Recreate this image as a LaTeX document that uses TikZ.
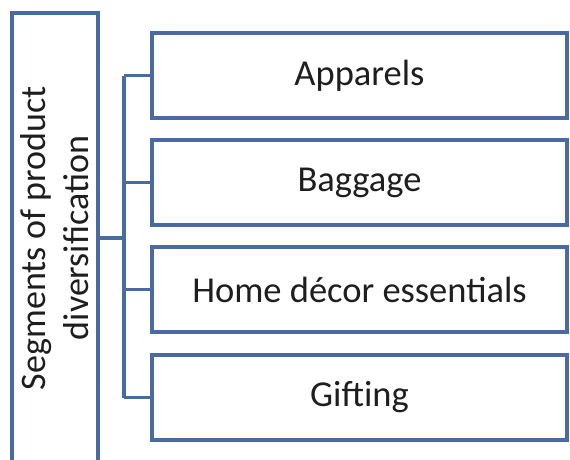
\documentclass[tikz,border=0pt]{standalone}
\usepackage{fontspec}
\setmainfont{Carlito}
\definecolor{bord}{HTML}{4A6AA2}
\definecolor{txt}{HTML}{1E1E1E}
\begin{document}
\begin{tikzpicture}[x=1pt,y=-1pt,
  box/.style={draw=bord, line width=3.6pt, fill=white, rectangle, inner sep=0pt,
    minimum width=415pt, minimum height=85pt, text=txt,
    font=\fontsize{36.5}{43}\selectfont},
  conn/.style={draw=bord, line width=3.6pt}]
\clip (0,0) rectangle (570,460);
\fill[white] (0,0) rectangle (570,460);
\node[draw=bord, line width=3.6pt, rectangle, rotate=90, inner sep=0pt,
  minimum width=450pt, minimum height=86pt, text=txt, align=center,
  font=\fontsize{36}{43}\selectfont] (seg) at (55,238)
  {Segments of product\\diversification};
\node[box] (b1) at (359.5,75.5) {Apparels};
\node[box] (b2) at (359.5,182.5) {Baggage};
\node[box] (b3) at (359.5,289.5) {Home décor essentials};
\node[box] (b4) at (359.5,397.5) {Gifting};
\coordinate (tr) at (124,238);
\coordinate (t1) at (124,75.5);
\coordinate (t4) at (124,397.5);
\draw[conn] (seg.south) -- (tr);
\draw[conn] (t1) -- (t4);
\draw[conn] (t1) -- (b1.west);
\draw[conn] (124,182.5) -- (b2.west);
\draw[conn] (124,289.5) -- (b3.west);
\draw[conn] (t4) -- (b4.west);
\end{tikzpicture}
\end{document}
